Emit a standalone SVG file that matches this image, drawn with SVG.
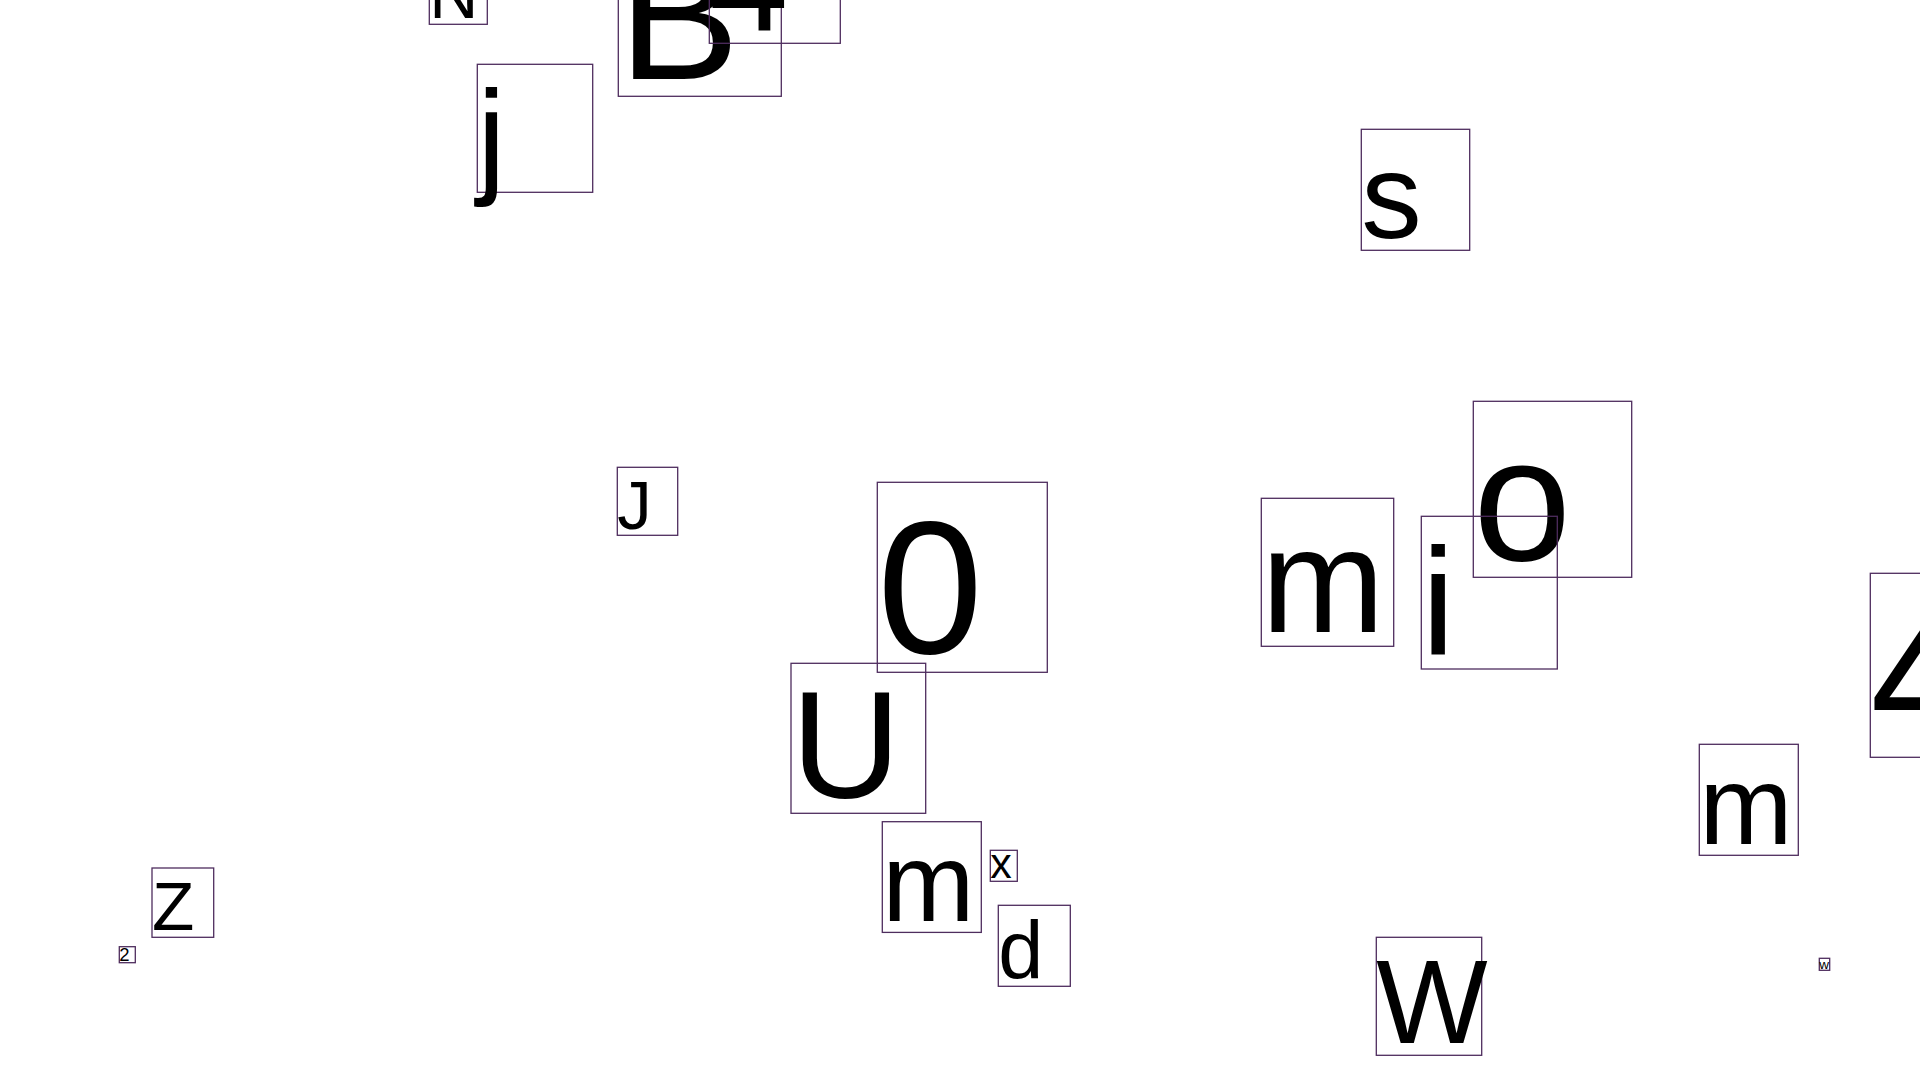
<svg xmlns="http://www.w3.org/2000/svg" width="1920" height="1080" viewBox="0 0 1920 1080">
<style>
.box{fill:none;stroke:#4e2d5e;stroke-width:1.3}
.t{font-family:"Liberation Sans",Arial,sans-serif;fill:#000}
</style>
<rect width="1920" height="1080" fill="#fff"/>
<g id="n-N"><rect class="box" x="429.3" y="-43.7" width="58" height="68"/><text class="t" x="429.3" y="17.5" font-size="68">N</text></g>
<g id="n-B"><rect class="box" x="618.3" y="-83.7" width="163" height="180"/><text class="t" x="618.3" y="78.8" font-size="182">B</text></g>
<g id="n-4a"><rect class="box" x="709.3" y="-96.7" width="131" height="140"/><text class="t" x="709.3" y="29.6" font-size="142">4</text></g>
<g id="n-j"><rect class="box" x="477.3" y="64.3" width="115.4" height="128"/><text class="t" x="477.3" y="179.5" font-size="128">j</text></g>
<g id="n-s"><rect class="box" x="1361.3" y="129.3" width="108.4" height="121"/><text class="t" x="1361.3" y="238.2" font-size="121">s</text></g>
<g id="n-J"><rect class="box" x="617.3" y="467.3" width="60.4" height="68"/><text class="t" x="617.3" y="528.8" font-size="69">J</text></g>
<g id="n-0"><rect class="box" x="877.3" y="482.3" width="170" height="190"/><text class="t" x="877.3" y="653.3" font-size="190">0</text></g>
<g id="n-m1"><rect class="box" x="1261.3" y="498.3" width="132.4" height="148"/><text class="t" x="1261.3" y="631.8" font-size="148">m</text></g>
<g id="n-o"><rect class="box" x="1473.3" y="401.3" width="158.4" height="176"/><text class="t" x="1473.3" y="560" font-size="176">o</text></g>
<g id="n-i"><rect class="box" x="1421.3" y="516.3" width="136" height="152.7"/><text class="t" x="1421.3" y="653.9" font-size="152.7">i</text></g>
<g id="n-4b"><rect class="box" x="1870.3" y="573.3" width="140" height="184"/><text class="t" x="1870.3" y="738.9" font-size="184">4</text></g>
<g id="n-U"><rect class="box" x="791" y="663.3" width="134.7" height="150"/><text class="t" x="791" y="798.3" font-size="152">U</text></g>
<g id="n-m2"><rect class="box" x="882.3" y="821.7" width="99" height="110.7"/><text class="t" x="882.3" y="921" font-size="110.7">m</text></g>
<g id="n-x"><rect class="box" x="990.3" y="850.3" width="27" height="31"/><text class="t" x="990.3" y="878" font-size="43">x</text></g>
<g id="n-d"><rect class="box" x="998.3" y="905.3" width="72" height="81"/><text class="t" x="998.3" y="978.3" font-size="81">d</text></g>
<g id="n-Z"><rect class="box" x="152" y="868" width="61.7" height="69.3"/><text class="t" x="152" y="930.2" font-size="69.3">Z</text></g>
<g id="n-2"><rect class="box" x="119.3" y="946.7" width="16" height="16"/><text class="t" x="119.3" y="961" font-size="18.5">2</text></g>
<g id="n-m3"><rect class="box" x="1699.3" y="744.3" width="99" height="111"/><text class="t" x="1699.3" y="844.3" font-size="112">m</text></g>
<g id="n-W"><rect class="box" x="1376.3" y="937.3" width="105.4" height="118"/><text class="t" x="1376.3" y="1043.4" font-size="118">W</text></g>
<g id="n-w"><rect class="box" x="1819.3" y="958.3" width="10.4" height="12"/><text class="t" x="1819.3" y="969.3" font-size="13.5">w</text></g>
<g id="connectors"></g>
</svg>
